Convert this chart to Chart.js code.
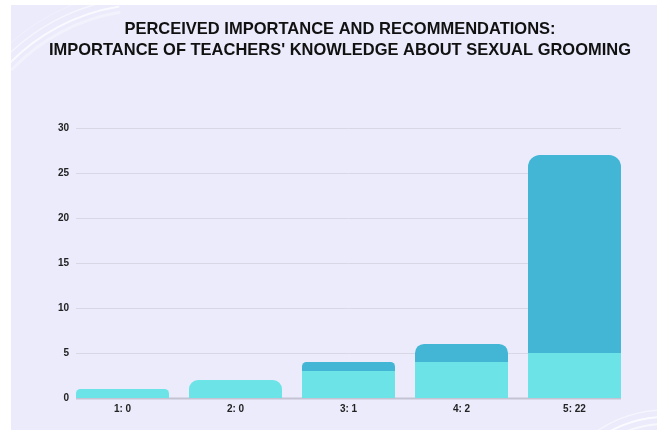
<!DOCTYPE html>
<html>
<head>
<meta charset="utf-8">
<script src="https://cdn.jsdelivr.net/npm/chart.js@4"></script>
<style>
  html, body { margin: 0; padding: 0; background: #ffffff; }
  #wrap { position: absolute; left: 11px; top: 5px; width: 646px; height: 425px; background: #ebebfc; }
</style>
</head>
<body>
<div id="wrap"><canvas id="groomingChart" width="646" height="425"></canvas></div>
<script>
// Labels and values
var categories = ["1: 0", "2: 0", "3: 1", "4: 2", "5: 22"];
var baseValues = [1, 2, 3, 4, 5];
var topValues = [0, 0, 1, 2, 22];
var yTicks = [0, 5, 10, 15, 20, 25, 30];

var lightCyan = "#6ce4e7";
var darkCyan = "#42b6d4";
var r = 12;
var labelFont = "bold 10px 'Liberation Sans', sans-serif";

// grid lines + y labels; lines only span the bars, like the original
var barGrid = {
  id: "barGrid",
  beforeDatasetsDraw: function(chart) {
    var ctx = chart.ctx;
    var yScale = chart.scales.y;
    var bars = chart.getDatasetMeta(0).data;
    var first = bars[0], last = bars[bars.length - 1];
    var x0 = first.x - first.width / 2;
    var x1 = last.x + last.width / 2;
    ctx.save();
    ctx.font = labelFont;
    ctx.fillStyle = "#222222";
    ctx.textAlign = "right";
    ctx.textBaseline = "middle";
    yTicks.forEach(function(v) {
      var py = yScale.getPixelForValue(v);
      var y = Math.round(py) + 0.5;
      ctx.strokeStyle = v === 0 ? "#c3c3d3" : "#d7d7e6";
      ctx.lineWidth = v === 0 ? 2 : 1;
      ctx.beginPath();
      ctx.moveTo(x0, y);
      ctx.lineTo(x1, y);
      ctx.stroke();
      ctx.fillText(String(v), x0 - 7, py);
    });
    ctx.restore();
  }
};

// faint white swooshes in the corners
var swoosh = {
  id: "swoosh",
  beforeDraw: function(chart) {
    var ctx = chart.ctx;
    ctx.save();
    ctx.strokeStyle = "#ffffff";
    [[190, 0.35, 3], [196, 0.7, 2], [203, 0.5, 1.5], [210, 0.3, 1]].forEach(function(a) {
      ctx.globalAlpha = a[1];
      ctx.lineWidth = a[2];
      ctx.beginPath();
      ctx.arc(139, 195, a[0], Math.PI * 1.24, Math.PI * 1.45);
      ctx.stroke();
    });
    [[106, 0.6, 2], [113, 0.8, 2], [120, 0.5, 1.5]].forEach(function(a) {
      ctx.globalAlpha = a[1];
      ctx.lineWidth = a[2];
      ctx.beginPath();
      ctx.arc(654, 525, a[0], Math.PI * 1.2, Math.PI * 1.55);
      ctx.stroke();
    });
    ctx.restore();
  }
};

new Chart(document.getElementById("groomingChart"), {
  type: "bar",
  data: {
    labels: categories,
    datasets: [{
      data: baseValues,
      backgroundColor: lightCyan,
      borderRadius: function(c) {
        return topValues[c.dataIndex] === 0 ? { topLeft: r, topRight: r, bottomLeft: 0, bottomRight: 0 } : 0;
      },
      borderSkipped: "start",
      barPercentage: 93 / 113,
      categoryPercentage: 1
    }, {
      data: topValues,
      backgroundColor: darkCyan,
      borderRadius: { topLeft: r, topRight: r, bottomLeft: 0, bottomRight: 0 },
      borderSkipped: "start",
      barPercentage: 93 / 113,
      categoryPercentage: 1
    }]
  },
  options: {
    responsive: false,
    animation: false,
    layout: { padding: { left: 38, right: 26, top: 0, bottom: 0 } },
    plugins: {
      legend: { display: false },
      tooltip: { enabled: false },
      title: {
        display: true,
        text: ["PERCEIVED IMPORTANCE AND RECOMMENDATIONS:", "IMPORTANCE OF TEACHERS' KNOWLEDGE ABOUT SEXUAL GROOMING"],
        color: "#111111",
        font: { family: "'Liberation Sans', Arial, sans-serif", size: 16.5, weight: "bold", lineHeight: 1.27 },
        padding: { top: 14, bottom: 67 }
      }
    },
    scales: {
      x: {
        stacked: true,
        grid: { display: false, drawTicks: false },
        border: { display: false },
        afterFit: function(s) { s.height = 32; },
        ticks: { color: "#222222", padding: 5, font: { family: "'Liberation Sans', sans-serif", size: 10, weight: "bold" } }
      },
      y: {
        stacked: true,
        min: 0,
        max: 30,
        afterFit: function(s) { s.width = 17; },
        grid: { display: false, drawTicks: false },
        border: { display: false },
        ticks: { display: false }
      }
    }
  },
  plugins: [swoosh, barGrid]
});
</script>
</body>
</html>
